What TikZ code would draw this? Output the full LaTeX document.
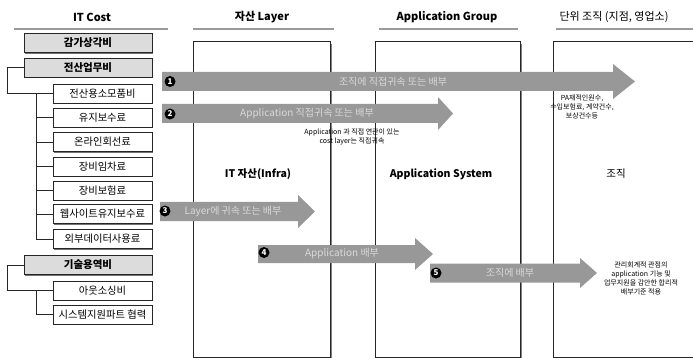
\documentclass[tikz,border=0pt]{standalone}
\usepackage{fontspec}
\setmainfont{Noto Sans CJK KR}
\usetikzlibrary{calc,shadows}
\definecolor{arrowgray}{HTML}{989898}
\definecolor{boxgray}{HTML}{DCDCDC}
\definecolor{rulegray}{HTML}{9A9A9A}
\begin{document}
\begin{tikzpicture}[x=1pt,y=-1pt,
  costbox/.style={draw=black!85, line width=0.7pt, fill=white, minimum width=99pt, minimum height=19pt, inner sep=0pt,
    font=\fontsize{10.3}{11}\selectfont, drop shadow={shadow xshift=1.2pt,shadow yshift=-1.2pt,fill=black!55,opacity=1}},
  graybox/.style={costbox, fill=boxgray, minimum width=128pt, font=\fontsize{10.5}{11}\selectfont\bfseries},
  colbox/.style={draw=black!85, line width=0.7pt, inner sep=0pt},
  shadowline/.style={draw=black!50, line width=1.2pt},
  header/.style={font=\fontsize{11}{12}\selectfont\bfseries, inner sep=0pt},
  hrule/.style={draw=rulegray, line width=1.4pt},
  tree/.style={draw=black!85, line width=0.7pt},
  bigarrow/.style={fill=arrowgray},
  arrowtext/.style={text=white!85!black, font=\fontsize{10}{11}\selectfont, inner sep=0pt},
  badge/.style={circle, fill=black, text=white, inner sep=0pt, minimum size=11pt, font=\fontsize{8}{8}\selectfont\bfseries},
  note/.style={font=\fontsize{7}{9}\selectfont, align=center, inner sep=0pt},
  collabel/.style={font=\fontsize{10.5}{12}\selectfont, inner sep=0pt}
]
\useasboundingbox (0,0) rectangle (693,358);
\fill[white] (0,0) rectangle (693,358);

% headers
\node[header] (h1) at (92,17) {IT Cost};
\node[header] (h2) at (262,17) {자산 Layer};
\node[header] (h3) at (447,17) {Application Group};
\node[header, font=\fontsize{11}{12}\selectfont] (h4) at (614,17) {단위 조직 (지점, 영업소)};
\draw[hrule] (14,29) -- (168,29);
\draw[hrule] (193,29) -- (334,29);
\draw[hrule] (379,29) -- (518,29);
\draw[hrule] (556,29) -- (693,29);

% column boxes (behind arrows)
\node[colbox, fill=white, minimum width=137pt, minimum height=316pt] (infra) at (261.5,199) {};
\draw[shadowline] ($(infra.north east)+(1.3,3)$) -- ($(infra.south east)+(1.3,1.3)$) -- ($(infra.south west)+(3,1.3)$);
\node[colbox, minimum width=145pt, minimum height=316pt] (app) at (447.5,199) {};
\draw[shadowline] ($(app.north east)+(1.3,3)$) -- ($(app.south east)+(1.3,1.3)$) -- ($(app.south west)+(3,1.3)$);
\node[colbox, minimum width=146pt, minimum height=316pt] (org) at (626,199) {};
\draw[shadowline] ($(org.south west)+(3,1.3)$) -- ($(org.south east)+(1.3,1.3)$);
\node[collabel, font=\fontsize{10.5}{12}\selectfont\bfseries] (infralbl) at (258,174) {IT 자산(Infra)};
\node[collabel, font=\fontsize{10.5}{12}\selectfont\bfseries] (applbl) at (441,174) {Application System};
\node[collabel] (orglbl) at (616,174) {조직};

% cost boxes
\node[graybox] (c1) at (88,43) {감가상각비};
\node[graybox] (c2) at (88,67.5) {전산업무비};
\node[costbox] (c21) at (102.5,93.5) {전산용소모품비};
\node[costbox] (c22) at (102.5,117.5) {유지보수료};
\node[costbox] (c23) at (102.5,142) {온라인회선료};
\node[costbox] (c24) at (102.5,166.5) {장비임차료};
\node[costbox] (c25) at (102.5,190.5) {장비보험료};
\node[costbox] (c26) at (102.5,214) {웹사이트유지보수료};
\node[costbox] (c27) at (102.5,239) {외부데이터사용료};
\node[graybox] (c3) at (88,265) {기술용역비};
\node[costbox] (c31) at (102.5,290.5) {아웃소싱비};
\node[costbox] (c32) at (102.5,314.5) {시스템지원파트 협력};

% tree connectors
\coordinate (t2) at (7,67.5);
\coordinate (t2b) at (36,93.5);
\draw[tree] (c2.west) -- (t2) |- (c21.west);
\draw[tree] (t2b) |- (c27.west);
\foreach \n in {c22,c23,c24,c25,c26} \draw[tree] (36,0 |- \n.west) -- (\n.west);
\coordinate (t3) at (7,265);
\coordinate (t3b) at (36,290.5);
\draw[tree] (c3.west) -- (t3) |- (c31.west);
\draw[tree] (t3b) |- (c32.west);

% arrows
\fill[bigarrow] (162,72) -- (613,72) -- (613,64) -- (635,81.5) -- (613,99) -- (613,91) -- (162,91) -- cycle;
\fill[bigarrow] (162,104) -- (438,104) -- (438,97) -- (453,113.5) -- (438,130) -- (438,123) -- (162,123) -- cycle;
\fill[bigarrow] (160,202) -- (298,202) -- (298,195) -- (315,211.5) -- (298,228) -- (298,221) -- (160,221) -- cycle;
\fill[bigarrow] (258,245) -- (415,245) -- (415,238) -- (433,254) -- (415,270) -- (415,263) -- (258,263) -- cycle;
\fill[bigarrow] (430,263.5) -- (580,263.5) -- (580,258) -- (597,273) -- (580,288) -- (580,282.5) -- (430,282.5) -- cycle;

\node[arrowtext] (a1) at (393,81.5) {조직에 직접귀속 또는 배부};
\node[arrowtext] (a2) at (307,114) {Application 직접귀속 또는 배부};
\node[arrowtext] (a3) at (233,212) {Layer에 귀속 또는 배부};
\node[arrowtext] (a4) at (342,254) {Application 배부};
\node[arrowtext] (a5) at (510,273) {조직에 배부};

\node[badge] (b1) at (170,81.5) {1};
\node[badge] (b2) at (170,114) {2};
\node[badge] (b3) at (165,211) {3};
\node[badge] (b4) at (264,252.5) {4};
\node[badge] (b5) at (436,273) {5};

% notes
\node[note] (n1) at (352,136.5) {Application 과 직접 연관이 있는\\cost layer는 직접귀속};
\node[note] (n2) at (582,107) {PA재적인원수,\\수입보험료, 계약건수,\\보상건수등};
\node[note] (n3) at (641,278) {관리회계적 관점의\\application 기능 및\\업무지원을 감안한 합리적\\배부기준 적용};
\end{tikzpicture}
\end{document}
